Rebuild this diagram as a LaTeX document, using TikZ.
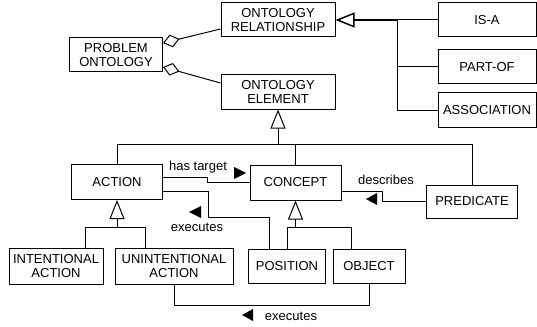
\documentclass[tikz,border=0pt]{standalone}
\usepackage{fontspec}
\setmainfont{Liberation Sans}
\usetikzlibrary{arrows.meta,positioning,calc}

\tikzset{
  umlbox/.style={draw, align=center, inner sep=0pt, minimum height=34pt,
    font=\fontsize{13}{14.5}\selectfont},
  gen/.style={-{Triangle[open,length=19pt,width=15pt]}},
  aggr/.style={{Diamond[open,length=17pt,width=13pt]}-},
  lbl/.style={font=\fontsize{13}{14.5}\selectfont, inner sep=1pt},
}

\begin{document}
\begin{tikzpicture}[x=1pt,y=-1pt,line width=1pt]
      \useasboundingbox (0,0) rectangle (537,326);

      % top part
      \node[umlbox, minimum width=93pt] (prob) at (116,55) {PROBLEM\\ONTOLOGY};
      \node[umlbox, minimum width=114pt] (rel) at (278,20) {ONTOLOGY\\RELATIONSHIP};
      \node[umlbox, minimum width=114pt] (elem) at (278,92) {ONTOLOGY\\ELEMENT};
      \node[umlbox, minimum width=98pt] (isa) at (487,20) {IS-A};
      \node[umlbox, minimum width=98pt] (partof) at (487,67) {PART-OF};
      \node[umlbox, minimum width=98pt] (assoc) at (487,110) {ASSOCIATION};

      % lower part
      \node[umlbox, minimum width=91pt, minimum height=35pt] (action) at (117,182) {ACTION};
      \node[umlbox, minimum width=91pt, minimum height=35pt] (concept) at (295.5,182.5) {CONCEPT};
      \node[umlbox, minimum width=91pt, minimum height=33pt] (pred) at (472,201.5) {PREDICATE};
      \node[umlbox, minimum width=94pt, minimum height=36pt] (iact) at (56,266) {INTENTIONAL\\ACTION};
      \node[umlbox, minimum width=118pt, minimum height=36pt] (uact) at (174,266) {UNINTENTIONAL\\ACTION};
      \node[umlbox, minimum width=77pt] (pos) at (287,266) {POSITION};
      \node[umlbox, minimum width=72pt] (obj) at (369,266) {OBJECT};

      \coordinate (j1) at (397,20);
      \coordinate (j2) at (278,144);
      \coordinate (j3) at (117,227);
      \coordinate (j4) at (295.5,227);

      % aggregation
      \draw[aggr] ([yshift=12pt]prob.east) to ([yshift=-9pt]rel.west);
      \draw[aggr] ([yshift=-12pt]prob.east) to ([yshift=9pt]elem.west);

      % generalization
      \draw[gen, line width=1.5pt] (j1) -- (rel.east);
      \draw (isa.west) -- (j1);
      \draw (partof.west) -| (j1);
      \draw (assoc.west) -| (j1);

      \draw[gen] (j2) -- (elem.south);
      \draw (action.north) |- (j2);
      \draw (concept.north) |- (j2);
      \draw (pred.north) |- (j2);

      \draw[gen] (j3) -- (action.south);
      \draw ([xshift=29pt]iact.north) |- (j3);
      \draw ([xshift=-29pt]uact.north) |- (j3);

      \draw[gen] (j4) -- (concept.south);
      \draw (pos.north) |- (j4);
      \draw ([xshift=-18pt]obj.north) |- (j4);

      % associations
      \draw ([yshift=5pt]action.east) -- ++(44,0) |- (concept.west);
      \draw ([yshift=-9pt]action.east) -- ++(45,0) -- ++(0,26) -| ([xshift=-18pt]pos.north);
      \draw (pred.west) -- ++(-44,0) |- ([yshift=-8.5pt]concept.east);
      \draw (uact.south) -- ++(0,21) -| (obj.south);

      % labels
      \node[lbl] (hastgt) at (198,167) {has target};
      \node[lbl] (exec1) at (197,227) {executes};
      \node[lbl] (descr) at (386,180) {describes};
      \node[lbl] (exec2) at (291,316) {executes};

      \coordinate (hasdir) at (246,173);
      \coordinate (exec1dir) at (189,212);
      \coordinate (descrdir) at (366,199);
      \coordinate (exec2dir) at (242,315);
      \fill (hasdir) -- ++(-12,-6) -- ++(0,12) -- cycle;
      \fill (exec1dir) -- ++(12,-6) -- ++(0,12) -- cycle;
      \fill (descrdir) -- ++(11,-6) -- ++(0,12) -- cycle;
      \fill (exec2dir) -- ++(11,-6) -- ++(0,12) -- cycle;
    \end{tikzpicture}
\end{document}
